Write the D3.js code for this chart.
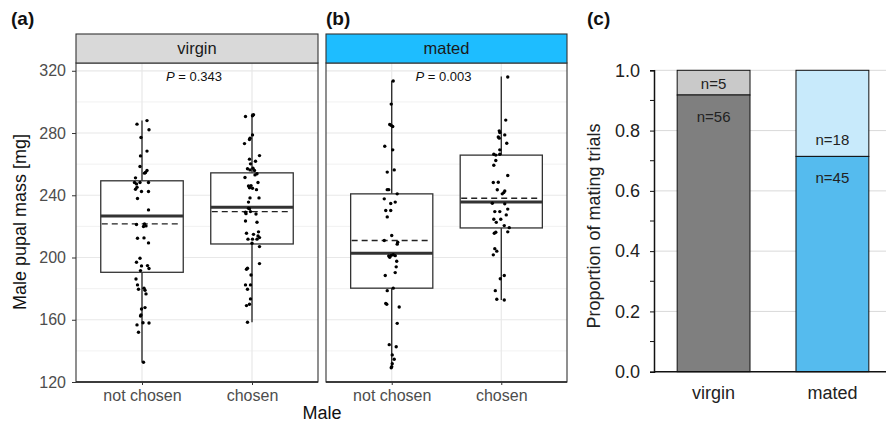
<!DOCTYPE html>
<html>
<head>
<meta charset="utf-8">
<script src="https://cdn.jsdelivr.net/npm/d3@7"></script>
<style>
  body { margin: 0; background: #fff; }
  text { font-family: "Liberation Sans", Arial, sans-serif; }
</style>
</head>
<body>
<div id="chart"></div>
<script>
// ---- data ----
const maleCats = ["not chosen", "chosen"];
const femaleGroups = ["virgin", "mated"];
const pValues = ["0.343", "0.003"];

// box stats: [lower whisker, Q1, median, Q3, upper whisker, mean]
const virginBoxes = [[132.7, 190.5, 226.7, 249.3, 288.0, 221.6],
                     [158.4, 208.7, 232.3, 254.4, 292.5, 229.5]];
const matedBoxes  = [[129.0, 180.3, 202.8, 240.9, 313.6, 210.9],
                     [172.7, 219.0, 235.6, 265.8, 316.3, 238.1]];

// points: [mass, jitter (1/110 of category step)]
const virginNotChosen = [[285.7,-5],[288.0,5],[282.1,7],[277.1,-1],[268.4,5],[265.3,-1.5],[258.5,-2],
  [254.6,3.5],[255.9,5],[254.2,2.5],[251.2,-6.5],[248.2,-7.5],[247.3,-5.5],[248.2,-2],[248.2,6.5],
  [245.2,-5],[243.9,-6.5],[242.4,-0.5],[237.9,-4.5],[242.4,6.5],[230.6,6.5],[221.2,-5.5],[221.6,2.5],
  [220.3,4],[219.9,1.5],[212.4,-4.5],[212.6,2],[209.4,6.5],[199.5,-2],[197.0,-5.5],[194.6,-0.5],
  [194.8,5.5],[192.9,7],[191.6,-1.5],[186.2,-6],[182.4,-4.5],[179.6,-3.5],[180.3,2],[179.0,3],
  [176.6,4],[166.9,-0.5],[167.8,3],[162.4,-1.5],[163.1,-1],[158.1,1],[156.7,-5],[157.9,7],
  [152.0,-3.5],[132.7,1.5]];
const virginChosen = [[291.7,1.5],[291.1,0.5],[290.6,-6.5],[278.8,0.5],[276.7,-2],[275.8,-2.5],
  [273.2,-7.5],[265.5,7.5],[263.2,-2.5],[261.9,3.5],[260.2,-1.5],[257.0,-4.5],[256.3,-2],[257.4,1],
  [255.9,2.5],[253.8,5],[253.1,3],[251.4,-7],[248.2,6],[246.0,-3.5],[246.2,-1],[244.8,-2.5],
  [244.5,0.5],[243.6,4.5],[238.3,-2],[238.3,7],[235.6,-3.5],[231.7,-3.5],[231.3,-2.5],[229.1,-6.5],
  [229.5,-1.5],[228.2,-6],[228.0,4],[223.5,-6.5],[222.7,5],[216.5,6.5],[215.6,-5.5],[214.9,1.5],
  [213.9,6],[211.8,-4],[211.8,0.5],[211.8,5],[212.8,7.5],[209.2,0],[207.0,7.5],[196.1,7.5],
  [192.5,-5.5],[193.1,-4.5],[188.8,-1],[182.4,-6.5],[182.4,-1.5],[179.6,-4.5],[173.4,-1.5],
  [169.1,-5.5],[170.0,-2.5],[158.4,-4.5]];
const matedNotChosen = [[313.4,1.5],[298.6,-0.5],[285.5,-2],[284.9,-0.5],[284.2,1],[271.5,-7],
  [269.2,1],[254.9,-4.5],[256.3,2.5],[243.6,-4.5],[243.6,-3],[240.9,5.5],[237.7,-7.5],[234.7,-1],
  [235.6,3.5],[230.2,-6],[230.2,-1],[226.1,-4.5],[214.1,0],[210.9,-7.5],[209.8,6],[208.6,5.5],
  [201.0,-3],[201.4,-0.5],[201.8,1.5],[201.2,3.5],[200.2,-2],[197.6,5],[194.0,4.5],[190.3,3.5],
  [188.4,-6.5],[178.7,-4.5],[180.3,1.5],[170.5,-6],[170.0,-5],[168.2,7.5],[157.7,5.5],[144.0,-2.5],
  [142.7,4.5],[137.4,0.5],[134.6,2.5],[131.8,0.5],[129.8,0],[129.2,-0.5]];
const matedChosen = [[316.0,6.5],[288.3,4.5],[281.4,-2],[280.3,-1.5],[278.8,3.5],[277.4,-3],
  [276.7,-2],[273.4,5.5],[269.2,-1.5],[266.4,-7.5],[265.8,-5.5],[266.4,-1.5],[262.3,-5.5],
  [259.3,-7.5],[252.7,6.5],[248.2,-8],[248.4,-3],[243.5,-4],[241.7,2.5],[242.8,3.5],[240.9,1],
  [234.9,-9],[234.5,3.5],[231.1,6.5],[229.5,-1.5],[229.5,-6.5],[227.4,5],[224.6,-7.5],[224.6,-0.5],
  [222.6,-5],[220.5,3],[219.2,8],[216.5,6.5],[215.6,-7],[216.2,-5.5],[205.7,-6.5],[204.1,-4.5],
  [201.7,-8],[186.4,-1],[188.4,3],[178.7,-6],[173.2,-4.5],[172.7,3]];

// panel (c)
const trialGroups = ["virgin", "mated"];
const chosenN = [56, 45];
const notChosenN = [5, 18];

// ---- layout ----
const W = 886, H = 424;
const FONT = "'Liberation Sans', Arial, sans-serif";
const svg = d3.select("#chart").append("svg")
    .attr("width", W).attr("height", H);

const plotTop = 63, plotBottom = 382, stripTop = 34;
const y = d3.scaleLinear().domain([120, 325]).range([plotBottom, plotTop]);

function boxPanel(left, right, group, stripFill, pval, series, boxes, showY) {
    const g = svg.append("g");
    const x = d3.scalePoint().domain(maleCats).range([left, right]).padding(0.6);
    const step = x.step();

    // grid
    g.selectAll(".minor").data(d3.range(140, 321, 40)).enter().append("line")
        .attr("x1", left).attr("x2", right)
        .attr("y1", d => y(d)).attr("y2", d => y(d))
        .attr("stroke", "#eeeeee").attr("stroke-width", 0.8);
    g.selectAll(".major").data(d3.range(120, 321, 40)).enter().append("line")
        .attr("x1", left).attr("x2", right)
        .attr("y1", d => y(d)).attr("y2", d => y(d))
        .attr("stroke", "#e8e8e8").attr("stroke-width", 1.2);
    g.selectAll(".vgrid").data(maleCats).enter().append("line")
        .attr("x1", d => x(d)).attr("x2", d => x(d))
        .attr("y1", plotTop).attr("y2", plotBottom)
        .attr("stroke", "#e8e8e8").attr("stroke-width", 1.2);

    // boxes
    const bw = step * 0.75;
    maleCats.forEach((c, i) => {
        const s = boxes[i], cx = x(c);
        g.append("line").attr("x1", cx).attr("x2", cx)
            .attr("y1", y(s[4])).attr("y2", y(s[3]))
            .attr("stroke", "#222").attr("stroke-width", 1.3);
        g.append("line").attr("x1", cx).attr("x2", cx)
            .attr("y1", y(s[1])).attr("y2", y(s[0]))
            .attr("stroke", "#222").attr("stroke-width", 1.3);
        g.append("rect").attr("x", cx - bw / 2).attr("width", bw)
            .attr("y", y(s[3])).attr("height", y(s[1]) - y(s[3]))
            .attr("fill", "#fff").attr("stroke", "#333").attr("stroke-width", 1.3);
        g.append("line").attr("x1", cx - bw / 2).attr("x2", cx + bw / 2)
            .attr("y1", y(s[2])).attr("y2", y(s[2]))
            .attr("stroke", "#333").attr("stroke-width", 3);
        g.append("line").attr("x1", cx - bw / 2 + 1).attr("x2", cx + bw / 2 - 3)
            .attr("y1", y(s[5])).attr("y2", y(s[5]))
            .attr("stroke", "#222").attr("stroke-width", 1.4)
            .attr("stroke-dasharray", "6,4");
    });

    // jittered points
    maleCats.forEach((c, i) => {
        g.selectAll(null).data(series[i]).enter().append("circle")
            .attr("cx", d => x(c) + d[1] / 110 * step)
            .attr("cy", d => y(d[0]))
            .attr("r", 1.7).attr("fill", "#000");
    });

    // border + strip
    g.append("rect").attr("x", left).attr("y", plotTop)
        .attr("width", right - left).attr("height", plotBottom - plotTop)
        .attr("fill", "none").attr("stroke", "#333").attr("stroke-width", 1.1);
    g.append("line").attr("x1", left).attr("x2", right)
        .attr("y1", plotBottom).attr("y2", plotBottom)
        .attr("stroke", "#222").attr("stroke-width", 1.6);
    g.append("rect").attr("x", left).attr("y", stripTop)
        .attr("width", right - left).attr("height", plotTop - stripTop)
        .attr("fill", stripFill).attr("stroke", "#333").attr("stroke-width", 1.1);
    g.append("text").attr("x", (left + right) / 2).attr("y", (stripTop + plotTop) / 2 + 5)
        .attr("text-anchor", "middle").attr("font-size", 16.5).attr("fill", "#1a1a1a")
        .text(group);

    const pt = g.append("text").attr("x", (left + right) / 2 - 3).attr("y", 81)
        .attr("text-anchor", "middle").attr("font-size", 13).attr("fill", "#111");
    pt.append("tspan").attr("font-style", "italic").text("P");
    pt.append("tspan").text(" = " + pval);

    // x axis ticks + labels
    const xa = g.append("g").attr("transform", `translate(0,${plotBottom})`)
        .call(d3.axisBottom(x).tickSize(3).tickPadding(5));
    xa.select(".domain").remove();
    xa.selectAll("line").attr("stroke", "#333");
    xa.selectAll("text").attr("font-size", 16).attr("fill", "#4d4d4d")
        .style("font-family", FONT);

    if (showY) {
        const ya = g.append("g").attr("transform", `translate(${left},0)`)
            .call(d3.axisLeft(y).tickValues(d3.range(120, 321, 40)).tickSize(4).tickPadding(6));
        ya.select(".domain").remove();
        ya.selectAll("line").attr("stroke", "#333");
        ya.selectAll("text").attr("font-size", 16).attr("fill", "#4d4d4d")
            .style("font-family", FONT);
    }
}

boxPanel(76, 318, femaleGroups[0], "#d9d9d9", pValues[0], [virginNotChosen, virginChosen], virginBoxes, true);
boxPanel(326, 567, femaleGroups[1], "#1ebdff", pValues[1], [matedNotChosen, matedChosen], matedBoxes, false);

svg.append("text")
    .attr("transform", "translate(25.5,222) rotate(-90)")
    .attr("text-anchor", "middle").attr("font-size", 18).attr("fill", "#111")
    .text("Male pupal mass [mg]");
svg.append("text").attr("x", 322).attr("y", 418.5)
    .attr("text-anchor", "middle").attr("font-size", 18).attr("fill", "#111")
    .text("Male");

// panel labels
[["(a)", 11], ["(b)", 326], ["(c)", 587]].forEach(([t, px]) => {
    svg.append("text").attr("x", px).attr("y", 25)
        .attr("font-size", 19).attr("font-weight", "bold").attr("fill", "#111").text(t);
});

// ---- panel (c): stacked proportions ----
const cLeft = 654, cBottom = 371.7, cTop = 70.3;
const xc = d3.scaleBand().domain(trialGroups).range([cLeft, 892])
    .paddingInner(0.387).paddingOuter(0.195);
const yc = d3.scaleLinear().domain([0, 1]).range([cBottom, cTop]);
const gc = svg.append("g");

gc.selectAll(".cgrid").data(d3.range(0.2, 1.01, 0.2)).enter().append("line")
    .attr("x1", cLeft).attr("x2", W)
    .attr("y1", d => yc(d)).attr("y2", d => yc(d))
    .attr("stroke", "#d9d9d9").attr("stroke-width", 1);

const bottomFill = ["#7f7f7f", "#55bbee"];
const topFill = ["#c9c9c9", "#c8eafb"];
trialGroups.forEach((grp, i) => {
    const total = chosenN[i] + notChosenN[i];
    const p = chosenN[i] / total;
    const bx = xc(grp), bw = xc.bandwidth();
    gc.append("rect").attr("x", bx).attr("width", bw)
        .attr("y", yc(1)).attr("height", yc(p) - yc(1))
        .attr("fill", topFill[i]).attr("stroke", "#111").attr("stroke-width", 1);
    gc.append("rect").attr("x", bx).attr("width", bw)
        .attr("y", yc(p)).attr("height", yc(0) - yc(p))
        .attr("fill", bottomFill[i]).attr("stroke", "#111").attr("stroke-width", 1);
    const topH = yc(p) - yc(1);
    const topY = topH < 30 ? (yc(p) + yc(1)) / 2 + 6.5 : yc(p) - 11.5;
    gc.append("text").attr("x", bx + bw / 2).attr("y", topY)
        .attr("text-anchor", "middle").attr("font-size", 15).attr("fill", "#222")
        .text("n=" + notChosenN[i]);
    gc.append("text").attr("x", bx + bw / 2).attr("y", yc(p) + 27)
        .attr("text-anchor", "middle").attr("font-size", 15).attr("fill", "#222")
        .text("n=" + chosenN[i]);
});

// y axis (c) with minor ticks
const yca = gc.append("g").attr("transform", `translate(${cLeft},0)`)
    .call(d3.axisLeft(yc).tickValues(d3.range(0, 1.01, 0.2)).tickFormat(d3.format(".1f"))
        .tickSize(4).tickPadding(10));
yca.select(".domain").attr("stroke", "#111").attr("stroke-width", 1.5);
yca.selectAll("line").attr("stroke", "#111");
yca.selectAll("text").attr("font-size", 18).attr("fill", "#222")
    .style("font-family", FONT);
gc.selectAll(".minorc").data(d3.range(0.1, 1, 0.2)).enter().append("line")
    .attr("x1", cLeft - 4).attr("x2", cLeft)
    .attr("y1", d => yc(d)).attr("y2", d => yc(d))
    .attr("stroke", "#111");

// x axis (c)
gc.append("line").attr("x1", cLeft).attr("x2", W)
    .attr("y1", cBottom).attr("y2", cBottom)
    .attr("stroke", "#111").attr("stroke-width", 1.5);
gc.selectAll(".xlab").data(trialGroups).enter().append("text")
    .attr("x", d => xc(d) + xc.bandwidth() / 2).attr("y", 399)
    .attr("text-anchor", "middle").attr("font-size", 18).attr("fill", "#222")
    .text(d => d);

svg.append("text")
    .attr("transform", "translate(600,226) rotate(-90)")
    .attr("text-anchor", "middle").attr("font-size", 18).attr("fill", "#222")
    .text("Proportion of mating trials");
</script>
</body>
</html>
